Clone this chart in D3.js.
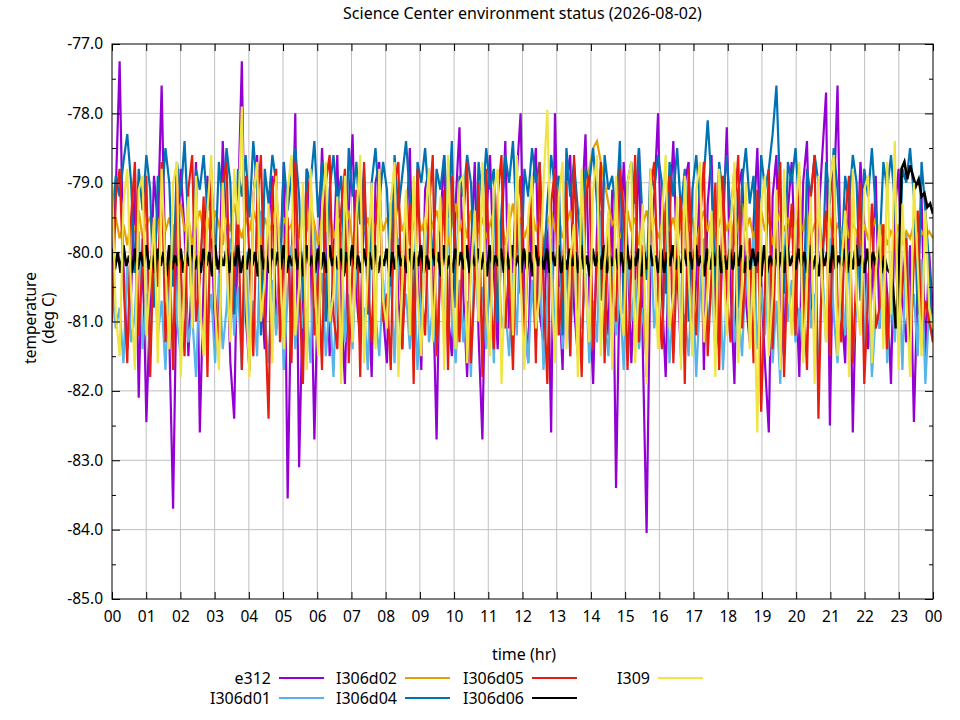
<!DOCTYPE html>
<html><head><meta charset="utf-8">
<script src="https://cdn.jsdelivr.net/npm/d3@7"></script>
<style>body{margin:0;background:#fff}svg{display:block}text{font-family:"Noto Sans",sans-serif;fill:#000}</style>
</head><body><svg id="c" width="960" height="720"></svg>
<script>
const title = "Science Center environment status (2026-08-02)";
const hourLabels = ["00","01","02","03","04","05","06","07","08","09","10","11","12","13","14","15","16","17","18","19","20","21","22","23","00"];
const yTicks = [-77,-78,-79,-80,-81,-82,-83,-84,-85];
const seriesNames = ["e312","I306d01","I306d02","I306d04","I306d05","I306d06","I309"];
const seriesColors = ["#9400d3","#56b4e9","#e69f00","#0072b2","#e51e10","#000000","#f0e442"];

const e312 = [-80.4,-79.1,-77.25,-80.2,-81.4,-80.6,-79.0,-82.1,-79.8,-82.45,-80.7,-78.9,
-79.6,-77.6,-80.3,-81.2,-83.7,-80.1,-78.8,-79.7,-81.5,-80.2,-78.7,-82.6,
-80.4,-78.9,-79.5,-81.3,-80.6,-78.4,-79.8,-81.6,-82.4,-79.4,-77.25,-80.9,
-81.7,-79.2,-78.6,-80.5,-81.4,-79.6,-78.9,-81.1,-80.2,-78.7,-83.55,-80.4,
-78.0,-83.1,-80.6,-78.8,-79.9,-82.7,-80.3,-78.5,-79.7,-81.5,-80.1,-78.6,
-80.8,-81.9,-79.4,-78.3,-80.6,-81.3,-79.2,-80.5,-81.8,-79.0,-78.7,-80.9,
-81.6,-79.3,-78.9,-80.7,-81.4,-79.8,-78.5,-81.0,-80.2,-81.7,-79.1,-78.8,
-80.4,-82.7,-79.6,-78.6,-80.9,-81.5,-79.3,-78.2,-80.6,-81.8,-80.0,-78.7,
-81.2,-82.7,-79.5,-78.6,-80.3,-81.4,-79.8,-78.4,-81.1,-80.2,-78.9,-78.0,
-80.7,-81.6,-79.2,-78.5,-80.9,-81.3,-79.6,-82.6,-78.0,-80.5,-81.7,-79.0,
-78.6,-80.8,-81.5,-79.4,-78.3,-80.6,-81.9,-79.7,-78.8,-80.4,-81.2,-79.1,
-83.4,-80.2,-78.7,-79.9,-81.6,-80.3,-78.5,-81.4,-84.05,-80.1,-79.2,-78.0,
-80.6,-81.8,-79.5,-78.4,-80.2,-81.5,-79.0,-78.7,-81.2,-80.4,-78.9,-81.7,
-79.3,-78.6,-80.8,-81.4,-79.7,-78.2,-80.5,-81.9,-79.1,-78.8,-80.7,-81.3,
-79.6,-78.5,-80.4,-81.6,-82.6,-79.2,-78.6,-80.9,-81.5,-79.4,-78.7,-80.3,
-81.8,-79.0,-78.4,-80.6,-81.2,-79.5,-78.6,-77.7,-82.5,-79.3,-77.6,-80.8,
-81.6,-79.1,-82.6,-80.2,-78.7,-79.6,-81.4,-80.5,-78.9,-81.1,-79.8,-80.6,
-81.9,-79.4,-78.8,-80.7,-81.3,-79.9,-82.45,-80.4,-79.2,-81.5,-80.0,-80.9];

const I306d01 = [-80.5,-81.1,-80.8,-81.6,-80.2,-81.3,-80.9,-79.7,-81.4,-80.6,-81.5,-80.1,
-81.2,-80.7,-81.7,-80.3,-79.6,-81.0,-81.5,-80.4,-81.3,-80.9,-81.8,-80.2,
-79.5,-81.1,-80.6,-81.6,-80.3,-81.4,-80.8,-79.8,-81.2,-80.5,-81.7,-80.0,
-81.3,-80.7,-81.5,-79.4,-80.9,-81.6,-80.4,-81.2,-80.1,-81.7,-80.6,-79.9,
-81.4,-80.5,-81.1,-80.8,-81.6,-79.6,-81.0,-80.3,-81.5,-80.7,-81.8,-80.2,
-79.7,-81.3,-80.6,-81.4,-80.0,-81.2,-80.8,-81.7,-79.5,-80.9,-81.5,-80.4,
-81.1,-80.3,-81.6,-79.8,-81.0,-80.6,-81.4,-80.2,-81.7,-80.5,-79.6,-81.3,
-80.8,-81.5,-80.1,-81.2,-79.4,-80.9,-81.6,-80.4,-81.3,-80.7,-81.8,-79.9,
-81.0,-80.5,-81.4,-80.2,-81.6,-79.7,-81.1,-80.8,-81.5,-80.3,-81.2,-79.5,
-80.9,-81.6,-80.4,-81.3,-80.0,-81.7,-80.6,-79.8,-81.2,-80.5,-81.4,-80.1,
-81.5,-79.6,-80.8,-81.1,-80.3,-81.6,-80.7,-81.3,-79.4,-80.9,-81.5,-80.2,
-81.2,-80.6,-81.7,-79.9,-81.0,-80.4,-81.4,-80.8,-81.6,-79.7,-81.1,-80.5,
-81.3,-80.1,-81.6,-80.7,-79.5,-81.2,-80.9,-81.5,-80.3,-81.8,-80.6,-79.8,
-81.1,-80.4,-81.4,-80.0,-81.7,-80.6,-79.6,-81.3,-80.8,-81.5,-80.2,-81.0,
-79.7,-81.4,-80.5,-81.2,-80.1,-81.6,-80.7,-81.9,-79.9,-81.0,-80.4,-81.3,
-80.8,-81.5,-79.5,-81.1,-80.6,-81.7,-80.2,-81.3,-79.8,-80.9,-81.6,-80.4,
-81.2,-80.0,-81.5,-80.7,-79.6,-81.4,-80.3,-81.8,-80.9,-81.1,-79.9,-81.6,
-80.5,-81.3,-80.2,-81.7,-79.7,-81.0,-80.6,-81.5,-80.1,-81.9,-80.8,-81.2];

const I306d02 = [-79.7,-79.5,-79.8,-79.6,-79.9,-79.5,-79.7,-79.4,-79.8,-79.6,-79.5,-79.9,
-79.6,-79.4,-79.7,-79.5,-79.8,-79.6,-79.3,-79.7,-79.5,-79.9,-79.6,-79.4,
-79.7,-79.5,-79.8,-79.4,-79.6,-79.9,-79.5,-79.7,-79.3,-79.6,-79.8,-79.5,
-79.7,-79.4,-79.6,-79.9,-79.5,-79.7,-79.6,-79.3,-79.8,-79.5,-79.7,-79.6,
-79.4,-79.8,-79.5,-79.7,-79.3,-79.6,-79.9,-79.5,-79.7,-79.4,-79.8,-79.6,
-79.5,-79.7,-79.4,-79.9,-79.6,-79.3,-79.7,-79.5,-79.8,-79.6,-79.4,-79.7,
-79.5,-79.8,-79.6,-79.3,-79.7,-79.5,-79.9,-79.6,-79.4,-79.7,-79.5,-79.8,
-79.6,-79.4,-79.7,-79.5,-79.9,-79.6,-79.3,-79.7,-79.5,-79.8,-79.4,-79.6,
-79.7,-79.5,-79.8,-79.6,-79.4,-79.7,-79.5,-79.9,-79.6,-79.3,-79.7,-79.5,
-79.8,-79.6,-79.4,-79.7,-79.5,-79.9,-79.6,-79.4,-79.7,-79.5,-79.8,-79.6,
-79.4,-79.7,-79.5,-79.3,-79.1,-78.8,-78.5,-78.4,-78.7,-79.0,-79.3,-79.6,
-79.5,-79.8,-79.6,-79.4,-79.7,-79.5,-79.9,-79.6,-79.4,-79.7,-79.5,-79.8,
-79.6,-79.4,-79.7,-79.5,-79.8,-79.6,-79.3,-79.7,-79.5,-79.9,-79.6,-79.4,
-79.7,-79.5,-79.8,-79.6,-79.4,-79.7,-79.5,-79.9,-79.6,-79.3,-79.7,-79.5,
-79.8,-79.6,-79.4,-79.7,-79.5,-79.9,-79.6,-79.4,-79.7,-79.5,-79.8,-79.6,
-79.5,-79.7,-79.4,-79.8,-79.6,-79.5,-79.9,-79.7,-79.5,-79.8,-79.6,-79.7,
-79.5,-79.8,-79.6,-79.7,-79.9,-79.6,-79.8,-79.7,-79.5,-79.8,-79.6,-79.9,
-79.7,-79.8,-79.6,-79.9,-79.7,-79.8,-79.6,-79.9,-79.7,-79.8,-79.7,-79.8];

const I306d04 = [-79.5,-78.9,-79.2,-78.7,-78.3,-79.0,-80.3,-78.8,-79.4,-78.6,-79.1,-80.8,
-78.9,-79.3,-78.5,-79.0,-80.5,-78.7,-79.2,-78.4,-79.6,-81.0,-78.8,-79.1,
-78.6,-79.4,-78.9,-80.2,-78.7,-79.3,-78.5,-79.0,-80.9,-78.8,-79.2,-78.6,
-79.5,-78.4,-79.1,-81.2,-78.8,-79.3,-78.6,-79.0,-80.4,-78.7,-79.4,-78.9,
-78.5,-79.2,-80.7,-78.8,-79.0,-78.4,-79.5,-78.7,-81.0,-79.1,-78.6,-79.3,
-78.9,-80.3,-78.5,-79.2,-78.7,-79.6,-78.8,-80.9,-79.0,-78.5,-79.3,-78.7,
-79.1,-80.5,-78.6,-79.4,-78.9,-78.4,-79.2,-81.1,-78.7,-79.0,-78.5,-79.3,
-80.2,-78.8,-79.1,-78.6,-79.5,-78.4,-80.8,-78.9,-79.2,-78.6,-79.0,-80.4,
-78.7,-79.3,-78.5,-79.1,-78.8,-81.0,-79.4,-78.6,-79.0,-78.4,-79.6,-80.6,
-78.8,-79.2,-78.5,-79.0,-78.7,-80.3,-79.3,-78.6,-79.1,-78.9,-81.2,-78.5,
-79.2,-78.7,-79.4,-80.1,-78.8,-79.0,-78.5,-79.3,-80.7,-78.6,-79.1,-78.9,
-79.5,-78.4,-80.9,-79.0,-78.7,-79.3,-78.5,-79.6,-80.4,-78.8,-79.1,-78.6,
-79.0,-80.6,-78.7,-79.2,-78.5,-79.4,-78.8,-81.0,-79.1,-78.6,-79.3,-78.9,
-78.1,-79.0,-80.5,-78.7,-79.2,-78.6,-79.5,-78.8,-80.8,-79.0,-78.5,-79.3,
-78.9,-80.3,-78.6,-79.1,-78.8,-78.3,-77.6,-79.2,-80.6,-78.7,-79.0,-78.5,
-79.4,-81.1,-78.8,-79.2,-78.6,-79.0,-80.4,-78.7,-79.3,-78.5,-79.1,-80.2,
-78.9,-79.3,-78.6,-79.0,-80.7,-78.8,-79.2,-78.5,-79.4,-80.0,-78.7,-79.1,
-78.6,-79.3,-80.5,-78.8,-79.0,-78.5,-79.2,-80.9,-78.7,-79.4,-80.2,-81.3];

const I306d05 = [-81.0,-79.2,-78.8,-80.4,-81.6,-79.5,-78.7,-81.2,-80.1,-78.9,-81.8,-79.6,
-80.5,-78.7,-81.3,-79.9,-81.7,-78.9,-80.2,-81.5,-79.1,-78.6,-81.0,-80.4,
-79.2,-81.8,-78.8,-80.6,-81.4,-79.0,-78.7,-81.1,-80.3,-79.4,-81.7,-78.9,
-80.1,-81.5,-79.3,-78.6,-80.8,-82.4,-79.1,-78.8,-81.3,-80.0,-79.5,-81.6,
-78.7,-80.5,-81.9,-79.2,-78.9,-81.2,-80.3,-81.7,-79.0,-78.6,-80.9,-81.4,
-79.4,-78.8,-81.6,-80.2,-79.1,-81.8,-78.7,-80.4,-81.3,-79.6,-78.9,-81.0,
-80.6,-81.7,-79.0,-78.7,-81.4,-80.1,-79.3,-81.9,-78.8,-80.5,-81.2,-79.4,
-78.6,-81.5,-80.3,-79.1,-81.7,-78.9,-80.0,-81.3,-79.5,-78.7,-81.6,-80.4,
-79.0,-81.8,-78.8,-80.6,-81.4,-79.2,-78.6,-81.1,-80.2,-81.7,-79.4,-78.9,
-81.3,-80.0,-79.1,-81.6,-78.7,-80.5,-81.9,-79.3,-78.8,-81.2,-80.4,-79.0,
-81.5,-78.6,-80.3,-81.8,-79.2,-78.9,-81.4,-80.1,-78.7,-81.6,-79.5,-80.6,
-81.0,-78.8,-79.4,-81.7,-80.2,-78.6,-81.3,-79.9,-81.8,-79.1,-78.7,-80.5,
-81.4,-79.3,-78.9,-81.6,-80.0,-79.2,-81.9,-78.8,-80.4,-81.2,-79.6,-78.7,
-81.5,-80.3,-79.0,-81.7,-78.9,-80.6,-81.3,-79.4,-78.6,-81.1,-80.2,-79.8,
-81.6,-79.1,-82.3,-80.5,-78.8,-81.4,-79.6,-78.7,-81.8,-80.1,-79.3,-81.2,
-78.9,-80.4,-81.7,-79.2,-78.6,-82.4,-80.0,-79.4,-81.5,-78.8,-80.7,-81.3,
-79.5,-78.9,-81.6,-80.2,-79.0,-81.9,-80.6,-79.3,-81.1,-80.8,-79.6,-81.4,
-80.3,-79.7,-81.0,-80.5,-79.8,-81.6,-80.1,-79.4,-81.2,-80.7,-81.0,-81.3];

const I306d06 = [-79.95,-80.25,-80.0,-80.3,-79.9,-80.2,-80.05,-80.3,-79.95,-80.25,-80.0,-80.2,
-79.9,-80.25,-80.05,-80.3,-79.95,-80.2,-80.0,-80.35,-79.9,-80.25,-80.05,-80.2,
-79.95,-80.3,-80.0,-80.2,-79.9,-80.25,-80.05,-80.3,-79.95,-80.2,-80.0,-80.35,
-79.9,-80.25,-80.05,-80.2,-79.95,-80.3,-80.0,-80.2,-79.9,-80.3,-80.05,-80.25,
-79.95,-80.2,-80.0,-80.35,-79.9,-80.25,-80.05,-80.3,-79.95,-80.2,-80.0,-80.25,
-79.9,-80.3,-80.05,-80.2,-79.95,-80.25,-80.0,-80.35,-79.9,-80.2,-80.05,-80.3,
-79.95,-80.25,-80.0,-80.3,-79.9,-80.2,-80.05,-80.25,-79.95,-80.35,-80.0,-80.2,
-79.9,-80.25,-80.05,-80.3,-79.95,-80.2,-80.0,-80.25,-79.9,-80.3,-80.05,-80.2,
-79.95,-80.35,-80.0,-80.25,-79.9,-80.2,-80.05,-80.3,-79.95,-80.25,-80.0,-80.2,
-79.9,-80.3,-80.05,-80.25,-79.95,-80.2,-80.0,-80.35,-79.9,-80.25,-80.05,-80.3,
-79.95,-80.2,-80.0,-80.25,-79.9,-80.3,-80.05,-80.2,-79.95,-80.25,-80.0,-80.35,
-79.9,-80.25,-80.05,-80.2,-79.95,-80.3,-80.0,-80.25,-79.9,-80.2,-80.05,-80.3,
-79.95,-80.25,-80.0,-80.35,-79.9,-80.2,-80.05,-80.25,-79.95,-80.3,-80.0,-80.2,
-79.9,-80.3,-80.05,-80.25,-79.95,-80.2,-80.0,-80.3,-79.9,-80.25,-80.05,-80.35,
-79.95,-80.2,-80.0,-80.25,-79.9,-80.3,-80.05,-80.2,-79.95,-80.25,-80.0,-80.3,
-79.9,-80.25,-80.05,-80.2,-79.95,-80.35,-80.0,-80.25,-79.9,-80.2,-80.05,-80.3,
-79.95,-80.3,-80.0,-80.2,-79.9,-80.25,-80.05,-80.3,-79.95,-80.2,-80.0,-80.25,
-79.9,-80.2,-80.05,-80.35,-79.95,-80.25,-80.0,-80.2,-79.9,-80.3,-80.05,-80.25,
-79.95,-80.25,-80.0,-80.2,-79.9,-80.3,-80.05,-80.25,-79.95,-80.2,-80.0,-80.35,
-79.9,-80.3,-80.05,-80.2,-79.95,-80.25,-80.0,-80.3,-79.9,-80.2,-80.05,-80.25,
-79.95,-80.2,-80.0,-80.3,-79.9,-80.25,-80.05,-80.35,-79.95,-80.2,-80.0,-80.3,
-79.9,-80.25,-80.05,-80.2,-79.95,-80.3,-80.0,-80.25,-79.9,-80.2,-80.05,-80.3,
-79.95,-80.25,-80.0,-80.2,-79.9,-80.3,-80.05,-80.25,-80.3,-80.5,-81.1,-80.4,
-78.8,-78.7,-78.95,-78.75,-78.9,-79.05,-78.95,-79.2,-79.15,-79.35,-79.3,-79.45];

const I309 = [-79.0,-80.9,-81.5,-79.3,-78.8,-80.6,-81.7,-79.1,-78.9,-81.2,-80.4,-79.5,
-81.6,-78.8,-80.2,-81.4,-79.0,-78.7,-81.8,-80.3,-79.2,-81.1,-78.9,-80.7,
-81.5,-79.4,-78.6,-80.8,-81.7,-79.0,-80.1,-81.3,-78.8,-79.6,-77.9,-80.5,
-81.8,-79.2,-78.7,-81.0,-80.4,-79.3,-81.6,-78.9,-80.2,-81.4,-79.1,-78.6,
-81.2,-80.5,-79.0,-81.7,-78.8,-80.3,-81.5,-79.4,-78.7,-81.0,-80.6,-79.2,
-81.9,-78.9,-80.1,-81.3,-79.5,-78.6,-81.6,-80.2,-79.0,-81.4,-78.8,-80.7,
-81.1,-79.3,-78.7,-81.8,-80.4,-79.1,-81.2,-78.9,-80.6,-81.5,-79.6,-78.8,
-81.3,-80.0,-79.2,-81.7,-78.6,-80.5,-81.4,-79.0,-78.9,-81.6,-80.3,-79.4,
-81.0,-78.7,-80.8,-81.5,-79.1,-78.8,-81.9,-80.2,-79.3,-81.2,-78.6,-80.4,
-81.7,-79.5,-78.9,-81.1,-80.6,-79.0,-77.95,-80.3,-81.6,-79.2,-78.7,-81.4,
-80.1,-79.6,-81.8,-78.8,-80.5,-81.3,-79.1,-78.6,-81.5,-80.2,-79.4,-81.7,
-78.9,-80.7,-81.2,-79.0,-78.7,-81.6,-80.4,-79.3,-81.9,-78.8,-80.1,-81.4,
-79.5,-78.6,-81.1,-80.6,-79.2,-81.7,-78.9,-80.3,-81.5,-79.1,-78.7,-81.3,
-80.5,-79.4,-81.8,-78.8,-80.0,-81.2,-79.6,-78.7,-81.6,-80.4,-79.0,-81.4,
-80.2,-82.6,-79.3,-78.9,-81.5,-80.6,-79.1,-81.7,-78.8,-80.3,-81.2,-79.5,
-78.7,-81.6,-80.4,-79.2,-81.9,-78.9,-80.5,-81.3,-79.0,-78.6,-81.5,-80.2,
-79.4,-81.8,-78.8,-80.7,-81.2,-79.1,-78.9,-81.6,-80.3,-79.6,-81.4,-78.7,
-80.9,-78.4,-81.7,-79.3,-80.6,-81.8,-79.0,-80.2,-81.5,-79.4,-80.8,-81.1];

const seriesData = [e312, I306d01, I306d02, I306d04, I306d05, I306d06, I309];

const svg = d3.select("#c");
const L = 112, R = 933, T = 44, B = 599;
const x = d3.scaleLinear().domain([0, 24]).range([L, R]);
const y = d3.scaleLinear().domain([-85, -77]).range([B, T]);

svg.append("text").attr("x", (L+R)/2).attr("y", 19).attr("text-anchor","middle")
  .attr("font-size", 16).text(title);

// grid
const g = svg.append("g");
g.selectAll("line.vg").data(d3.range(1, 24)).join("line")
  .attr("x1", d => x(d)).attr("x2", d => x(d)).attr("y1", T).attr("y2", B)
  .attr("stroke", "#c0c0c0").attr("stroke-width", 1);
g.selectAll("line.hg").data(yTicks.slice(1, -1)).join("line")
  .attr("x1", L).attr("x2", R).attr("y1", d => y(d)).attr("y2", d => y(d))
  .attr("stroke", "#c0c0c0").attr("stroke-width", 1);

// series
svg.append("clipPath").attr("id","clp").append("rect")
  .attr("x", L).attr("y", T).attr("width", R-L).attr("height", B-T);
const lines = svg.append("g").attr("clip-path","url(#clp)");
seriesData.forEach((arr, k) => {
  const n = arr.length;
  const line = d3.line().x((d, i) => x(i * 24 / (n - 1))).y(d => y(d));
  lines.append("path").datum(arr).attr("d", line).attr("fill","none")
    .attr("stroke", seriesColors[k]).attr("stroke-width", k === 5 ? 2.6 : 2.2)
    .attr("stroke-linejoin","miter").attr("stroke-miterlimit", 4);
});

// axes
const tickVals = d3.range(0, 25);
const fmt = d => d.toFixed(1);
const xb = d3.axisBottom(x).tickValues(tickVals).tickFormat((d, i) => hourLabels[i]).tickSize(-7).tickPadding(12);
const xt = d3.axisTop(x).tickValues(tickVals).tickFormat("").tickSize(-7);
const minorY = [-77.5,-78.5,-79.5,-80.5,-81.5,-82.5,-83.5,-84.5];
const yl = d3.axisLeft(y).tickValues(yTicks).tickFormat(fmt).tickSize(-8).tickPadding(9);
const yr = d3.axisRight(y).tickValues(yTicks).tickFormat("").tickSize(-8);
const ylm = d3.axisLeft(y).tickValues(minorY).tickFormat("").tickSize(-4);
const yrm = d3.axisRight(y).tickValues(minorY).tickFormat("").tickSize(-4);
function style(sel){ sel.select(".domain").remove(); sel.selectAll("line").attr("stroke","#000");
  sel.selectAll("text").attr("font-size", 15.5).attr("font-family","Noto Sans").attr("fill","#000"); }
svg.append("g").attr("transform",`translate(0,${B})`).call(xb).call(style);
svg.append("g").attr("transform",`translate(0,${T})`).call(xt).call(style);
svg.append("g").attr("transform",`translate(${L},0)`).call(yl).call(style);
svg.append("g").attr("transform",`translate(${R},0)`).call(yr).call(style);
svg.append("g").attr("transform",`translate(${L},0)`).call(ylm).call(style);
svg.append("g").attr("transform",`translate(${R},0)`).call(yrm).call(style);
svg.append("rect").attr("x", L).attr("y", T).attr("width", R-L).attr("height", B-T)
  .attr("fill","none").attr("stroke","#000").attr("stroke-width",1);

// labels
svg.append("text").attr("transform","translate(36,318) rotate(-90)").attr("text-anchor","middle").attr("font-size",15.5).text("temperature");
svg.append("text").attr("transform","translate(54,318) rotate(-90)").attr("text-anchor","middle").attr("font-size",15.5).text("(deg C)");
svg.append("text").attr("x", 524).attr("y", 660).attr("text-anchor","middle").attr("font-size",16).text("time (hr)");

// legend (column-major, 2 rows)
const colRight = [271, 397, 524, 650];
const rowY = [678, 698];
seriesNames.forEach((name, k) => {
  const c = Math.floor(k / 2), r = k % 2;
  const lg = svg.append("g");
  lg.append("text").attr("x", colRight[c]).attr("y", rowY[r] + 6).attr("text-anchor","end")
    .attr("font-size", 16).text(name);
  lg.append("line").attr("x1", colRight[c] + 8).attr("x2", colRight[c] + 53)
    .attr("y1", rowY[r]).attr("y2", rowY[r]).attr("stroke", seriesColors[k]).attr("stroke-width", 2);
});
</script></body></html>
